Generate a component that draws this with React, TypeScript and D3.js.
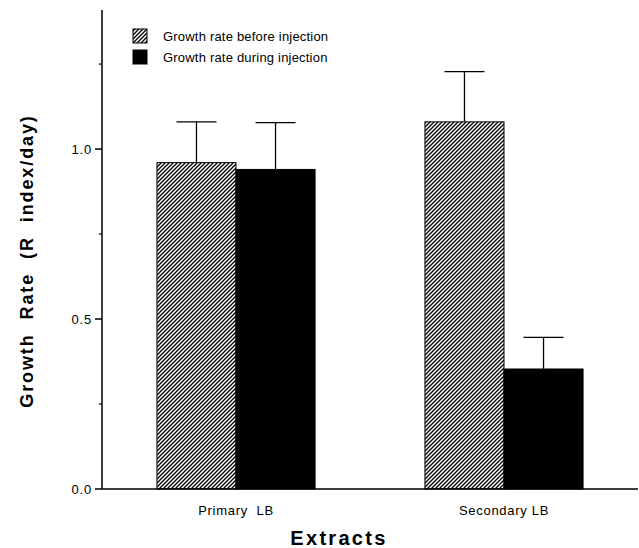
import React, { useEffect, useRef } from 'react';
import * as d3 from 'd3';

const categories = ['Primary  LB', 'Secondary LB'];
const seriesNames = ['Growth rate before injection', 'Growth rate during injection'];
const beforeValues = [0.96, 1.08];
const duringValues = [0.94, 0.353];
const beforeErrors = [0.12, 0.148];
const duringErrors = [0.138, 0.093];
const yTicks = [0, 0.5, 1.0];
const yMinorTicks = [0.25, 0.75, 1.25];

const W = 639;
const H = 548;
const FONT = '"Liberation Sans", Arial, Helvetica, sans-serif';

const App = () => {
    const svgRef = useRef<SVGSVGElement>(null);

    useEffect(() => {
        const svg = d3.select(svgRef.current);
        svg.selectAll('*').remove();

        const left = 102, right = 638, top = 10, bottom = 489;

        const x0 = d3.scaleBand()
            .domain(categories)
            .range([left, right])
            .paddingInner(0.41)
            .paddingOuter(0.205);

        const x1 = d3.scaleBand()
            .domain(seriesNames)
            .range([0, x0.bandwidth()]);

        const y = d3.scaleLinear()
            .domain([0, 1.409])
            .range([bottom, top]);

        // hatch pattern, diagonal lines
        const defs = svg.append('defs');
        const pat = defs.append('pattern')
            .attr('id', 'hatch')
            .attr('patternUnits', 'userSpaceOnUse')
            .attr('width', 4)
            .attr('height', 4);
        pat.append('rect').attr('width', 4).attr('height', 4).attr('fill', 'white');
        pat.append('path')
            .attr('d', 'M-1,1 l2,-2 M0,4 l4,-4 M3,5 l2,-2')
            .attr('stroke', 'black')
            .attr('stroke-width', 1.3);

        const fills = ['url(#hatch)', 'black'];

        const rows = categories.map((c, i) => [
            { cat: c, s: seriesNames[0], v: beforeValues[i], e: beforeErrors[i], f: fills[0] },
            { cat: c, s: seriesNames[1], v: duringValues[i], e: duringErrors[i], f: fills[1] },
        ]).flat();

        const g = svg.append('g');

        // error bars
        rows.forEach(d => {
            const cx = (x0(d.cat) ?? 0) + (x1(d.s) ?? 0) + x1.bandwidth() / 2;
            g.append('line')
                .attr('x1', cx).attr('x2', cx)
                .attr('y1', y(d.v)).attr('y2', y(d.v + d.e))
                .attr('stroke', 'black').attr('stroke-width', 1.3);
            g.append('line')
                .attr('x1', cx - 20).attr('x2', cx + 20)
                .attr('y1', y(d.v + d.e)).attr('y2', y(d.v + d.e))
                .attr('stroke', 'black').attr('stroke-width', 1.3);
        });

        g.selectAll('rect.bar')
            .data(rows)
            .join('rect')
            .attr('class', 'bar')
            .attr('x', d => (x0(d.cat) ?? 0) + (x1(d.s) ?? 0))
            .attr('y', d => y(d.v))
            .attr('width', x1.bandwidth())
            .attr('height', d => y(0) - y(d.v))
            .attr('fill', d => d.f)
            .attr('stroke', 'black')
            .attr('stroke-width', 1);

        // y axis
        const yAxis = svg.append('g');
        yAxis.append('line')
            .attr('x1', left).attr('x2', left)
            .attr('y1', top).attr('y2', bottom)
            .attr('stroke', 'black').attr('stroke-width', 1.5);
        yTicks.forEach(t => {
            yAxis.append('line')
                .attr('x1', left - 7).attr('x2', left)
                .attr('y1', y(t)).attr('y2', y(t))
                .attr('stroke', 'black').attr('stroke-width', 1.5);
            yAxis.append('text')
                .attr('x', left - 10).attr('y', y(t))
                .attr('dy', '0.35em')
                .attr('text-anchor', 'end')
                .style('font-family', FONT)
                .style('font-size', '13px')
                .style('letter-spacing', '0.8px')
                .text(d3.format('.1f')(t));
        });
        yMinorTicks.forEach(t => {
            yAxis.append('line')
                .attr('x1', left - 3).attr('x2', left)
                .attr('y1', y(t)).attr('y2', y(t))
                .attr('stroke', 'black').attr('stroke-width', 1.2);
        });

        // x axis
        svg.append('line')
            .attr('x1', left).attr('x2', right)
            .attr('y1', bottom).attr('y2', bottom)
            .attr('stroke', 'black').attr('stroke-width', 1.5);
        categories.forEach(c => {
            svg.append('text')
                .attr('x', (x0(c) ?? 0) + x0.bandwidth() / 2)
                .attr('y', 515)
                .attr('text-anchor', 'middle')
                .style('font-family', FONT)
                .style('font-size', '13px')
                .style('letter-spacing', '0.7px')
                .style('white-space', 'pre')
                .text(c);
        });

        // axis titles
        svg.append('text')
            .attr('x', 339)
            .attr('y', 545)
            .attr('text-anchor', 'middle')
            .style('font-family', FONT)
            .style('font-weight', 'bold')
            .style('font-size', '20px')
            .style('letter-spacing', '2.3px')
            .text('Extracts');

        svg.append('text')
            .attr('transform', 'translate(33, 261) rotate(-90)')
            .attr('text-anchor', 'middle')
            .style('font-family', FONT)
            .style('font-weight', 'bold')
            .style('font-size', '18px')
            .style('letter-spacing', '1.9px')
            .style('word-spacing', '7px')
            .text('Growth Rate (R index/day)');

        // legend
        const legend = svg.append('g');
        seriesNames.forEach((s, i) => {
            const ly = 29 + i * 21;
            legend.append('rect')
                .attr('x', 133).attr('y', ly)
                .attr('width', 14).attr('height', 14)
                .attr('fill', fills[i])
                .attr('stroke', 'black').attr('stroke-width', 1);
            legend.append('text')
                .attr('x', 163).attr('y', ly + 7)
                .attr('dy', '0.35em')
                .style('font-family', FONT)
                .style('font-size', '13px')
                .style('letter-spacing', '0.2px')
                .text(s);
        });
    }, []);

    return (
        <div style={{ position: 'absolute', left: 0, top: 0 }}>
            <svg ref={svgRef} width={W} height={H} style={{ display: 'block', background: 'white' }}></svg>
        </div>
    );
};

export default App;
